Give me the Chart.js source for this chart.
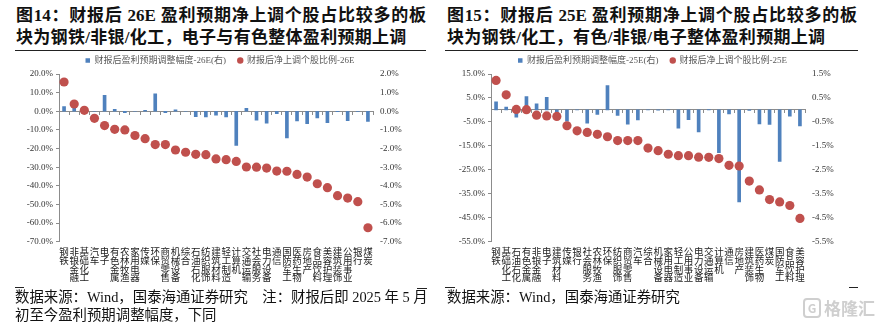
<!DOCTYPE html>
<html>
<head>
<meta charset="utf-8">
<script src="https://cdn.jsdelivr.net/npm/chart.js@4.4.1/dist/chart.umd.min.js"></script>
<style>
  html, body { margin: 0; padding: 0; background: #fff; }
  body { width: 877px; height: 327px; position: relative; overflow: hidden;
         font-family: 'Liberation Serif', 'Noto Sans CJK SC', serif; }
  .title { position: absolute; font-weight: 700; font-size: 17px; line-height: 22px;
           color: #111; white-space: nowrap; }
  .title .l1 { text-align: justify; text-align-last: justify; }
  .title .l2 { letter-spacing: 0.3px; }
  .rule { position: absolute; height: 1px; background: #222; }
  .note { position: absolute; font-size: 14.4px; line-height: 17.7px; color: #111; white-space: nowrap; }
  .mark { position: absolute; height: 1px; background: #222; }
  .panel { position: absolute; }
  .wm { position: absolute; left: 803px; top: 298px; color: #cfcfcf; font-family: 'Noto Sans CJK SC', sans-serif;
        font-weight: 700; font-size: 17px; line-height: 20px; white-space: nowrap; }
  .wm .g { display: inline-block; width: 14px; height: 16px; border: 2px solid #cfcfcf; border-radius: 4px;
           font-size: 12px; line-height: 16px; text-align: center; vertical-align: top; margin-right: 3px; }
</style>
</head>
<body>

<div class="title" style="left:16px; top:5px; width:410px;">
  <div class="l1">图14：财报后 26E 盈利预期净上调个股占比较多的板</div>
  <div class="l2">块为钢铁/非银/化工，电子与有色整体盈利预期上调</div>
</div>
<div class="rule" style="left:15px; top:50px; width:411px;"></div>

<div class="title" style="left:447px; top:5px; width:410px;">
  <div class="l1">图15：财报后 25E 盈利预期净上调个股占比较多的板</div>
  <div class="l2">块为钢铁/化工，有色/非银/电子整体盈利预期上调</div>
</div>
<div class="rule" style="left:445px; top:50px; width:413px;"></div>

<div class="panel" style="left:0px; top:44px; width:440px; height:248px;">
  <canvas id="c26" width="440" height="248"></canvas>
</div>
<div class="panel" style="left:440px; top:44px; width:425px; height:248px;">
  <canvas id="c25" width="425" height="248"></canvas>
</div>

<div class="mark" style="left:15px; top:287px; width:9px;"></div>
<div class="mark" style="left:417px; top:288px; width:10px;"></div>
<div class="note" style="left:15px; top:289px;">数据来源：Wind，国泰海通证券研究　注：财报后即 2025 年 5 月<br>初至今盈利预期调整幅度，下同</div>

<div class="mark" style="left:445px; top:287px; width:10px;"></div>
<div class="mark" style="left:849px; top:287px; width:9px;"></div>
<div class="note" style="left:447px; top:289px;">数据来源：Wind，国泰海通证券研究</div>

<div class="wm"><span class="g">G</span>格隆汇</div>

<script>
// ---- 2026E: industries, share of stocks revised up (%), earnings revision (%) ----
const cats26 = ['钢铁','非银金融','基础化工','汽车','电子','有色金属','农林牧渔','家用电器','传媒','环保',
  '商贸零售','机械设备','综合','石油石化','纺织服饰','建筑材料','轻工制造','计算机','交通运输','社会服务',
  '电力设备','通信','国防军工','医药生物','房地产','食品饮料','美容护理','建筑装饰','公用事业','银行','煤炭'];
const ratio26 = [15.7, 3.9, 0.5, -3.8, -7.7, -9.7, -10.0, -13.0, -14.7, -17.9,
  -17.9, -20.8, -22.0, -23.1, -23.3, -25.6, -26.0, -26.9, -29.9, -30.0,
  -30.5, -32.1, -32.2, -33.9, -35.3, -38.9, -41.0, -45.3, -46.6, -48.5, -62.5];
const adj26 = [0.25, 0.24, 0.0, 0.0, 0.85, 0.10, -0.08, 0.0, 0.05, 0.93,
  -0.08, 0.08, 0.0, -0.29, -0.31, -0.21, -0.30, -1.83, 0.16, -0.48,
  -0.64, -0.13, -1.43, -0.52, -0.66, -0.36, -0.61, -0.02, -0.50, -0.01, -0.54];
const names26 = ['财报后盈利预期调整幅度-26E(右)', '财报后净上调个股比例-26E'];
const leftAxis26 = [-70, 20, 10];
const rightAxis26 = [-7, 2, 1];

// ---- 2025E ----
const cats25 = ['钢铁','基础化工','石油石化','有色金属','非银金融','电子','建筑材料','传媒','银行','社会服务',
  '农林牧渔','环保','纺织服饰','商贸零售','汽车','综合','机械设备','家用电器','轻工制造','公用事业',
  '电力设备','交通运输','计算机','通信','房地产','建筑装饰','医药生物','煤炭','国防军工','食品饮料','美容护理'];
const ratio25 = [12.3, 6.3, 0.2, 0.1, -2.2, -2.5, -2.7, -6.6, -8.7, -9.4,
  -10.2, -11.2, -12.8, -12.8, -12.8, -15.9, -17.0, -18.5, -19.1, -19.1,
  -19.7, -19.8, -20.3, -23.1, -23.4, -29.7, -33.4, -37.4, -38.4, -39.9, -45.3];
const adj25 = [0.34, 0.12, -0.30, 0.56, 0.26, 0.53, -0.12, -0.47, 0.0, -0.55,
  -0.19, 1.02, -0.23, -0.59, -0.42, 0.0, -0.01, 0.0, -0.76, -0.41,
  -0.92, 0.02, -1.78, -0.17, -3.84, -0.02, -0.58, -0.60, -2.15, -0.26, -0.67];
const names25 = ['财报后盈利预期调整幅度-25E(右)', '财报后净上调个股比例-25E'];
const leftAxis25 = [-55, 15, 10];
const rightAxis25 = [-5.5, 1.5, 1];

const SERIF = "'Liberation Serif','Noto Sans CJK SC',serif";
const CJK = "'Noto Sans CJK SC','Liberation Serif',sans-serif";
const AXIS = '#8c8c8c';
const BLUE = '#4F81BD';
const RED = '#C0504D';
const pct = v => v.toFixed(1) + '%';

function build(id, cats, ratio, adj, names, leftAx, rightAx, yW, y1W) {
  new Chart(document.getElementById(id), {
    type: 'bar',
    data: {
      labels: cats.map(c => c.split('')),
      datasets: [
        { label: names[0], data: adj, yAxisID: 'y1', order: 1,
          backgroundColor: BLUE, borderWidth: 0, barThickness: 3, pointStyle: 'rect' },
        { type: 'line', label: names[1], data: ratio, yAxisID: 'y', order: 0,
          showLine: false, pointStyle: 'circle', pointRadius: 4.6, pointHoverRadius: 4.6,
          pointBorderWidth: 0, pointBackgroundColor: RED, backgroundColor: RED, borderColor: RED, borderWidth: 0 }
      ]
    },
    options: {
      responsive: false, animation: false, devicePixelRatio: 1,
      layout: { padding: 0 },
      plugins: {
        tooltip: { enabled: false },
        legend: {
          position: 'top', align: 'center', maxHeight: 30,
          labels: {
            usePointStyle: true, boxWidth: 4.5, boxHeight: 4.5, padding: 12,
            color: '#595959', font: { size: 9, family: SERIF },
            sort: (a, b) => a.datasetIndex - b.datasetIndex
          }
        }
      },
      scales: {
        x: {
          position: 'bottom', offset: true,
          grid: { display: false, drawTicks: false }, border: { display: false },
          ticks: { autoSkip: false, maxRotation: 0, minRotation: 0, padding: 5.5, color: '#222',
                   font: { size: 9.5, family: CJK, lineHeight: 0.92 } },
          afterFit: s => { s.height = 50.3; }
        },
        xz: {
          type: 'category', position: { y: 0 }, offset: true,
          grid: { display: true, drawOnChartArea: false, drawTicks: true, tickLength: 3, offset: true, color: AXIS },
          border: { display: true, color: AXIS, width: 1 },
          ticks: { display: false }
        },
        y: {
          position: 'left', min: leftAx[0], max: leftAx[1],
          grid: { drawOnChartArea: false, drawTicks: true, tickLength: 3, color: AXIS },
          border: { display: true, color: AXIS, width: 1 },
          ticks: { stepSize: leftAx[2], callback: pct, padding: 3, color: '#333', font: { size: 9, family: SERIF } },
          afterFit: s => { s.width = yW; }
        },
        y1: {
          position: 'right', min: rightAx[0], max: rightAx[1],
          grid: { display: false, drawTicks: false }, border: { display: false },
          ticks: { stepSize: rightAx[2], callback: pct, padding: 7, color: '#333', font: { size: 9, family: SERIF } },
          afterFit: s => { s.width = y1W; }
        }
      }
    }
  });
}

build('c26', cats26, ratio26, adj26, names26, leftAxis26, rightAxis26, 59, 67);
build('c25', cats25, ratio25, adj25, names25, leftAxis25, rightAxis25, 51, 60);
</script>
</body>
</html>
